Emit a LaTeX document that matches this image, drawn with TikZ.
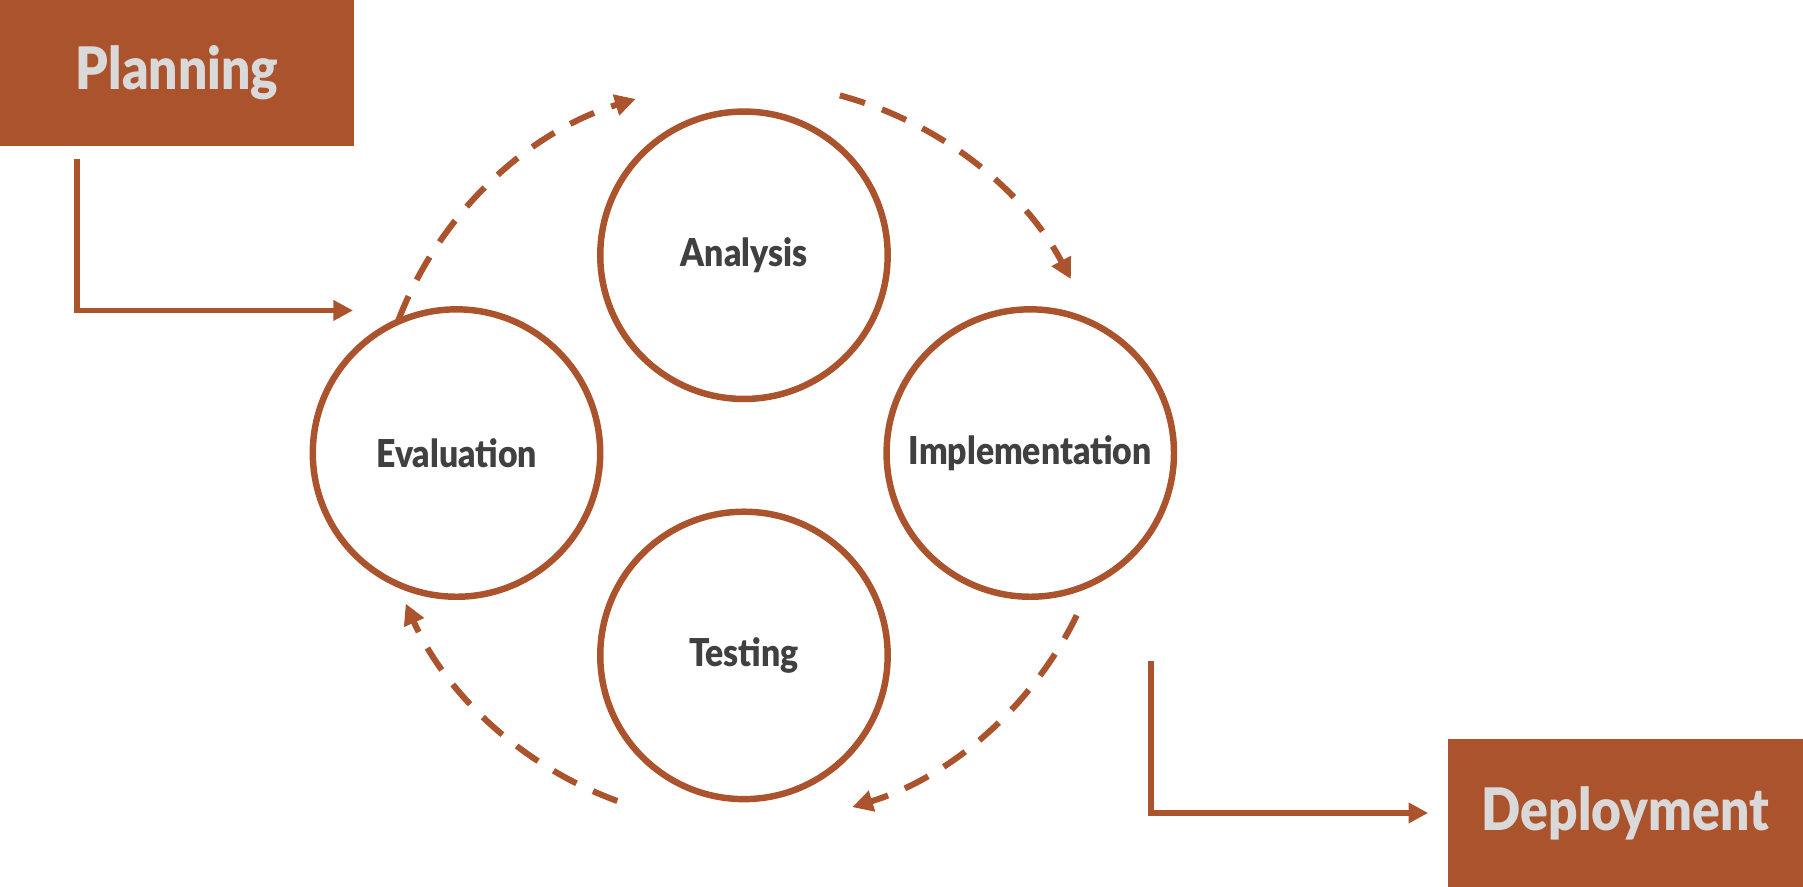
\documentclass[tikz,border=0pt]{standalone}
\usepackage{fontspec}
\setsansfont{Lato Black}[FakeStretch=0.88]
\usetikzlibrary{arrows.meta}
\definecolor{rust}{HTML}{AB532C}
\definecolor{labelgray}{HTML}{404040}
\definecolor{boxgray}{HTML}{D9D9D9}

\begin{document}
\begin{tikzpicture}[x=0.02cm, y=0.02cm,
    phase/.style={circle, draw=rust, line width=3.2pt, minimum size=5cm, inner sep=0pt,
        text=labelgray, font=\sffamily\fontsize{19}{22}\selectfont},
    stagebox/.style={rectangle, fill=rust, inner sep=0pt, text=boxgray,
        font=\sffamily\fontsize{29}{34}\selectfont},
    elbow/.style={rust, line width=2.6pt, -{Triangle[length=0.34cm, width=0.34cm]}},
    loopdash/.style={rust, line width=3pt, dash pattern=on 13pt off 9pt,
        -{Triangle[length=0.36cm, width=0.36cm]}}]
    \useasboundingbox (0,0) rectangle (1568,771);

    \node[stagebox, minimum width=6.16cm, minimum height=2.54cm] (planning) at (154,707.5) {Planning};
    \node[stagebox, minimum width=6.18cm, minimum height=2.56cm] (deploy) at (1413.5,64) {Deployment};

    \node[phase] (analysis) at (647,549) {Analysis};
    \node[phase] (evaluation) at (397,377) {Evaluation};
    \node[phase] (implementation) at (896,377) {Implementation};
    \node[phase] (testing) at (647,201) {Testing};

    % dashed cycle around the four phases
    \coordinate (ring) at (647,377);
    \foreach \s/\e in {159/107, 75/28, -26/-73, -110/-156} {
        \draw[loopdash] ([shift={(\s:322)}]ring) arc (\s:\e:322);
    }

    \coordinate (planstart) at (67,633);
    \coordinate (planend) at (307,501);
    \draw[elbow] (planstart) |- (planend);

    \coordinate (deploystart) at (1001,196);
    \coordinate (deployend) at (1242,64);
    \draw[elbow] (deploystart) |- (deployend);
\end{tikzpicture}
\end{document}
